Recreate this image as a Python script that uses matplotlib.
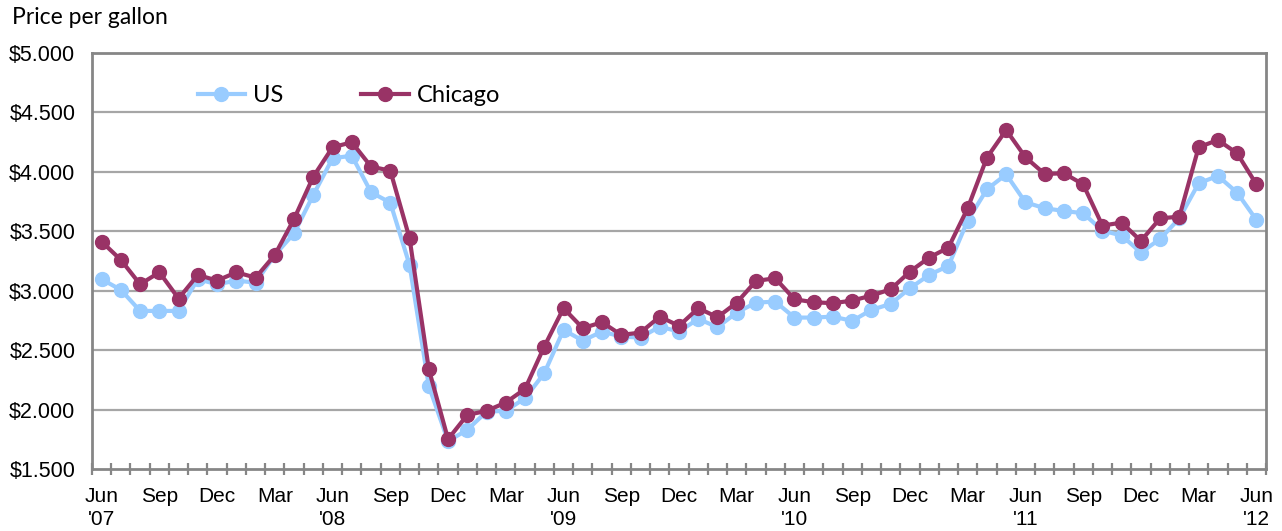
import matplotlib
matplotlib.use("Agg")
import matplotlib.pyplot as plt
import numpy as np

months = ["Jun", "Jul", "Aug", "Sep", "Oct", "Nov", "Dec", "Jan", "Feb", "Mar", "Apr", "May"]
years = ["'07", "'08", "'09", "'10", "'11", "'12"]

us = [3.097, 3.007, 2.830, 2.830, 2.830, 3.097, 3.054, 3.085, 3.068, 3.301,
      3.483, 3.806, 4.114, 4.136, 3.828, 3.741, 3.217, 2.199, 1.735, 1.829,
      1.983, 1.989, 2.096, 2.306, 2.670, 2.580, 2.656, 2.614, 2.606, 2.698,
      2.656, 2.763, 2.693, 2.816, 2.900, 2.908, 2.774, 2.774, 2.782, 2.746,
      2.839, 2.889, 3.021, 3.133, 3.209, 3.590, 3.853, 3.979, 3.744, 3.694,
      3.671, 3.652, 3.506, 3.464, 3.321, 3.436, 3.609, 3.904, 3.966, 3.825,
      3.596]
chicago = [3.413, 3.259, 3.054, 3.155, 2.934, 3.133, 3.085, 3.155, 3.110, 3.301,
           3.604, 3.960, 4.207, 4.249, 4.044, 4.010, 3.441, 2.340, 1.751, 1.955,
           1.989, 2.059, 2.174, 2.530, 2.853, 2.685, 2.735, 2.628, 2.648, 2.782,
           2.704, 2.853, 2.777, 2.900, 3.082, 3.105, 2.928, 2.903, 2.895, 2.917,
           2.959, 3.012, 3.161, 3.279, 3.363, 3.694, 4.120, 4.352, 4.123, 3.982,
           3.988, 3.895, 3.548, 3.573, 3.419, 3.609, 3.623, 4.207, 4.268, 4.156,
           3.895]
y_ticks = [1.5, 2.0, 2.5, 3.0, 3.5, 4.0, 4.5, 5.0]

n = len(us)
x = np.arange(n)
labels = []
for i in range(0, n, 3):
    m = months[i % 12]
    lab = m
    if m == "Jun":
        lab = m + "\n" + years[i // 12]
    labels.append(lab)

fig = plt.figure(figsize=(12.82, 5.31), dpi=100)
ax = fig.add_axes([92/1282, 1 - 469/531, (1266-92)/1282, (469-53)/531])

us_color = "#99CCFF"
chi_color = "#993366"
grid_color = "#A6A6A6"
spine_color = "#868686"

for yv in y_ticks[1:-1]:
    ax.axhline(yv, color=grid_color, lw=1.6, zorder=0)

ax.plot(x, us, color=us_color, lw=3, marker="o", ms=10, label="US", zorder=2)
ax.plot(x, chicago, color=chi_color, lw=3, marker="o", ms=10, label="Chicago", zorder=3)

ax.set_xlim(-0.5, n - 0.5)
ax.set_ylim(1.5, 5.0)
ax.set_yticks(y_ticks)
ax.set_yticklabels(["$%.3f" % v for v in y_ticks], fontsize=15.5, family="Liberation Sans")
ax.tick_params(axis="y", length=0, pad=12)

ax.set_xticks(np.arange(0, n, 3))
ax.set_xticklabels(labels, fontsize=15, family="Liberation Sans", linespacing=1.25, va="top")
ax.set_xticks(np.arange(-0.5, n, 1), minor=True)
ax.tick_params(axis="x", which="major", length=0, pad=13)
ax.tick_params(axis="x", which="minor", length=9, width=1.6, direction="inout", color=spine_color)

for s in ax.spines.values():
    s.set_color(spine_color)
    s.set_linewidth(2)

fig.text(12/1282, 1 - 17/531, "Price per gallon", fontsize=16.5, family="Lato", va="center", ha="left")

leg = ax.legend(loc="upper left", bbox_to_anchor=(0.082, 0.945), ncol=2, frameon=False,
                prop={"family": "Lato", "size": 17}, handlelength=2.0, columnspacing=3.3,
                handletextpad=0.35, borderaxespad=0)

fig.savefig("out.png", dpi=100)
